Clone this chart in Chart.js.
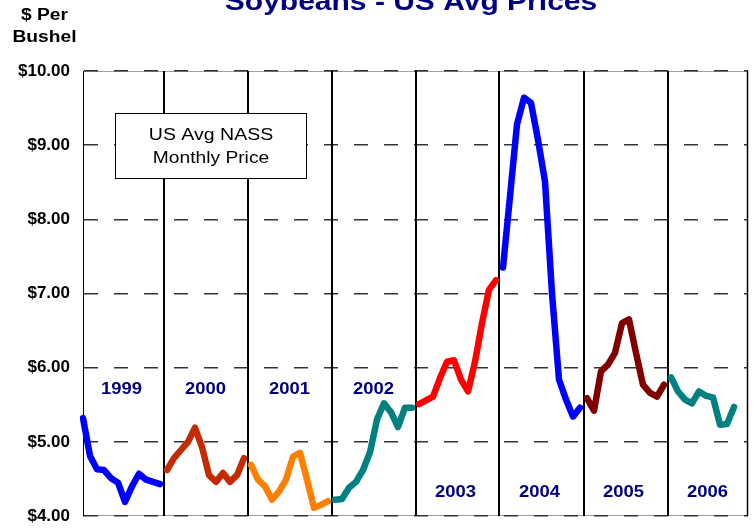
<!DOCTYPE html>
<html>
<head>
<meta charset="utf-8">
<script src="https://cdn.jsdelivr.net/npm/chart.js@4.4.1/dist/chart.umd.min.js"></script>
<style>
  html, body { margin: 0; padding: 0; background: #fff; }
  #wrap { width: 756px; height: 529px; }
</style>
</head>
<body>
<div id="wrap"><canvas id="grafico" width="756" height="529"></canvas></div>
<script>
// monthly US avg NASS soybean prices, $ per bushel
const years = ['1999', '2000', '2001', '2002', '2003', '2004', '2005', '2006'];
const months = ['Jan', 'Feb', 'Mar', 'Apr', 'May', 'Jun', 'Jul', 'Aug', 'Sep', 'Oct', 'Nov', 'Dec'];

const price1999 = [5.32, 4.81, 4.63, 4.62, 4.51, 4.45, 4.19, 4.40, 4.57, 4.49, 4.46, 4.43];
const price2000 = [4.62, 4.78, 4.89, 5.00, 5.19, 4.93, 4.55, 4.46, 4.58, 4.46, 4.55, 4.78];
const price2001 = [4.69, 4.49, 4.40, 4.22, 4.33, 4.49, 4.80, 4.85, 4.49, 4.11, 4.15, 4.20];
const price2002 = [4.22, 4.23, 4.38, 4.46, 4.62, 4.86, 5.30, 5.52, 5.40, 5.20, 5.46, 5.46];
const price2003 = [5.51, 5.56, 5.61, 5.86, 6.08, 6.10, 5.84, 5.68, 6.08, 6.60, 7.05, 7.18];
const price2004 = [7.35, 8.31, 9.28, 9.64, 9.57, 9.07, 8.51, 7.00, 5.84, 5.57, 5.34, 5.46];
const price2005 = [5.59, 5.42, 5.95, 6.04, 6.20, 6.60, 6.65, 6.20, 5.77, 5.66, 5.61, 5.77];
const price2006 = [5.87, 5.68, 5.57, 5.52, 5.68, 5.62, 5.60, 5.23, 5.24, 5.47];

const yearColors = ['#0000FF', '#C42B00', '#FF8000', '#008080', '#FF0000', '#0000FF', '#800000', '#008080'];
const yTicks = [4, 5, 6, 7, 8, 9, 10];

const title = 'Soybeans - US Avg Prices';
const axisTitle = ['$ Per', 'Bushel'];
const boxText = ['US Avg NASS', 'Monthly Price'];

const allPrices = [price1999, price2000, price2001, price2002, price2003, price2004, price2005, price2006];

const labels = [];
years.forEach(y => months.forEach(m => labels.push(m + ' ' + y)));

const datasets = allPrices.map((vals, i) => {
  const data = labels.map(() => null);
  vals.forEach((v, j) => { data[i * 12 + j] = v; });
  return {
    label: years[i],
    data: data,
    borderColor: yearColors[i],
    backgroundColor: yearColors[i],
    borderWidth: 6.5,
    borderJoinStyle: 'round',
    borderCapStyle: 'round',
    pointRadius: 0,
    tension: 0,
    spanGaps: false
  };
});

function stretchText(ctx, text, cx, y, sx) {
  ctx.save();
  ctx.translate(cx, y);
  ctx.scale(sx, 1);
  ctx.textAlign = 'center';
  ctx.textBaseline = 'alphabetic';
  ctx.fillText(text, 0, 0);
  ctx.restore();
}

const decoPlugin = {
  id: 'deco',
  beforeDraw(chart) {
    const { ctx, chartArea: a } = chart;
    ctx.save();
    ctx.strokeStyle = '#a0a0a0';
    ctx.lineWidth = 1;
    ctx.beginPath();
    ctx.moveTo(a.left, a.top + 0.5); ctx.lineTo(a.right, a.top + 0.5);
    ctx.moveTo(a.left, a.bottom - 0.5); ctx.lineTo(a.right, a.bottom - 0.5);
    ctx.stroke();
    ctx.restore();
  },
  beforeDatasetsDraw(chart) {
    const { ctx, chartArea: a } = chart;
    const xs = chart.scales.x;
    ctx.save();
    ctx.strokeStyle = '#000';
    ctx.lineWidth = 2;
    ctx.beginPath();
    for (let k = 1; k < years.length; k++) {
      const x = Math.round(xs.getPixelForValue(k * 12 - 0.5));
      ctx.moveTo(x, a.top); ctx.lineTo(x, a.bottom);
    }
    ctx.stroke();
    ctx.lineWidth = 1.5;
    ctx.beginPath();
    ctx.moveTo(a.right - 0.5, a.top); ctx.lineTo(a.right - 0.5, a.bottom);
    ctx.stroke();
    ctx.restore();
  },
  afterDraw(chart) {
    const { ctx } = chart;
    const xs = chart.scales.x;
    const ys = chart.scales.y;

    ctx.save();
    // title, cut off at the top like the original
    ctx.fillStyle = '#000080';
    ctx.font = 'bold 25px "Liberation Sans", Arial, sans-serif';
    stretchText(ctx, title, 411, 10, 1.2);

    // unit label
    ctx.fillStyle = '#000';
    ctx.font = 'bold 16px "Liberation Sans", Arial, sans-serif';
    stretchText(ctx, axisTitle[0], 44.5, 20, 1.2);
    stretchText(ctx, axisTitle[1], 44.5, 42, 1.2);

    // note box
    ctx.fillStyle = '#fff';
    ctx.fillRect(115.5, 113.5, 191, 65);
    ctx.strokeStyle = '#000';
    ctx.lineWidth = 1;
    ctx.strokeRect(115.5, 113.5, 191, 65);
    ctx.fillStyle = '#000';
    ctx.font = '16px "Liberation Sans", Arial, sans-serif';
    stretchText(ctx, boxText[0], 211, 139.5, 1.22);
    stretchText(ctx, boxText[1], 211, 162.5, 1.2);

    // year names
    ctx.fillStyle = '#000080';
    ctx.font = 'bold 16px "Liberation Sans", Arial, sans-serif';
    years.forEach((y, i) => {
      const cx = xs.getPixelForValue(i * 12 + 5.5) - (i > 3 ? 2 : 0);
      const cy = ys.getPixelForValue(i < 4 ? 5.72 : 4.34);
      stretchText(ctx, y, cx, cy + 6, 1.15);
    });
    ctx.restore();
  }
};

new Chart(document.getElementById('grafico'), {
  type: 'line',
  data: { labels: labels, datasets: datasets },
  plugins: [decoPlugin],
  options: {
    responsive: false,
    animation: false,
    layout: { padding: { top: 71, left: 0, right: 8, bottom: 13 } },
    plugins: {
      legend: { display: false },
      title: { display: false },
      tooltip: { enabled: false }
    },
    scales: {
      x: {
        type: 'category',
        display: false,
        offset: false
      },
      y: {
        min: yTicks[0],
        max: yTicks[yTicks.length - 1],
        afterFit(scale) {
          scale.width = 83;
          // labels may hang past the plot, the layout padding covers it
          scale.paddingTop = 0;
          scale.paddingBottom = 0;
        },
        afterBuildTicks(scale) { scale.ticks = yTicks.map(v => ({ value: v })); },
        ticks: {
          padding: 13,
          color: '#000',
          font: { family: '"Liberation Sans", Arial, sans-serif', size: 17, weight: 'bold' },
          callback: v => '$' + Number(v).toFixed(2)
        },
        grid: {
          color: '#333',
          lineWidth: 1.5,
          drawTicks: false
        },
        border: {
          display: true,
          color: '#000',
          width: 1,
          dash: [14, 16]
        }
      }
    }
  }
});
</script>
</body>
</html>
